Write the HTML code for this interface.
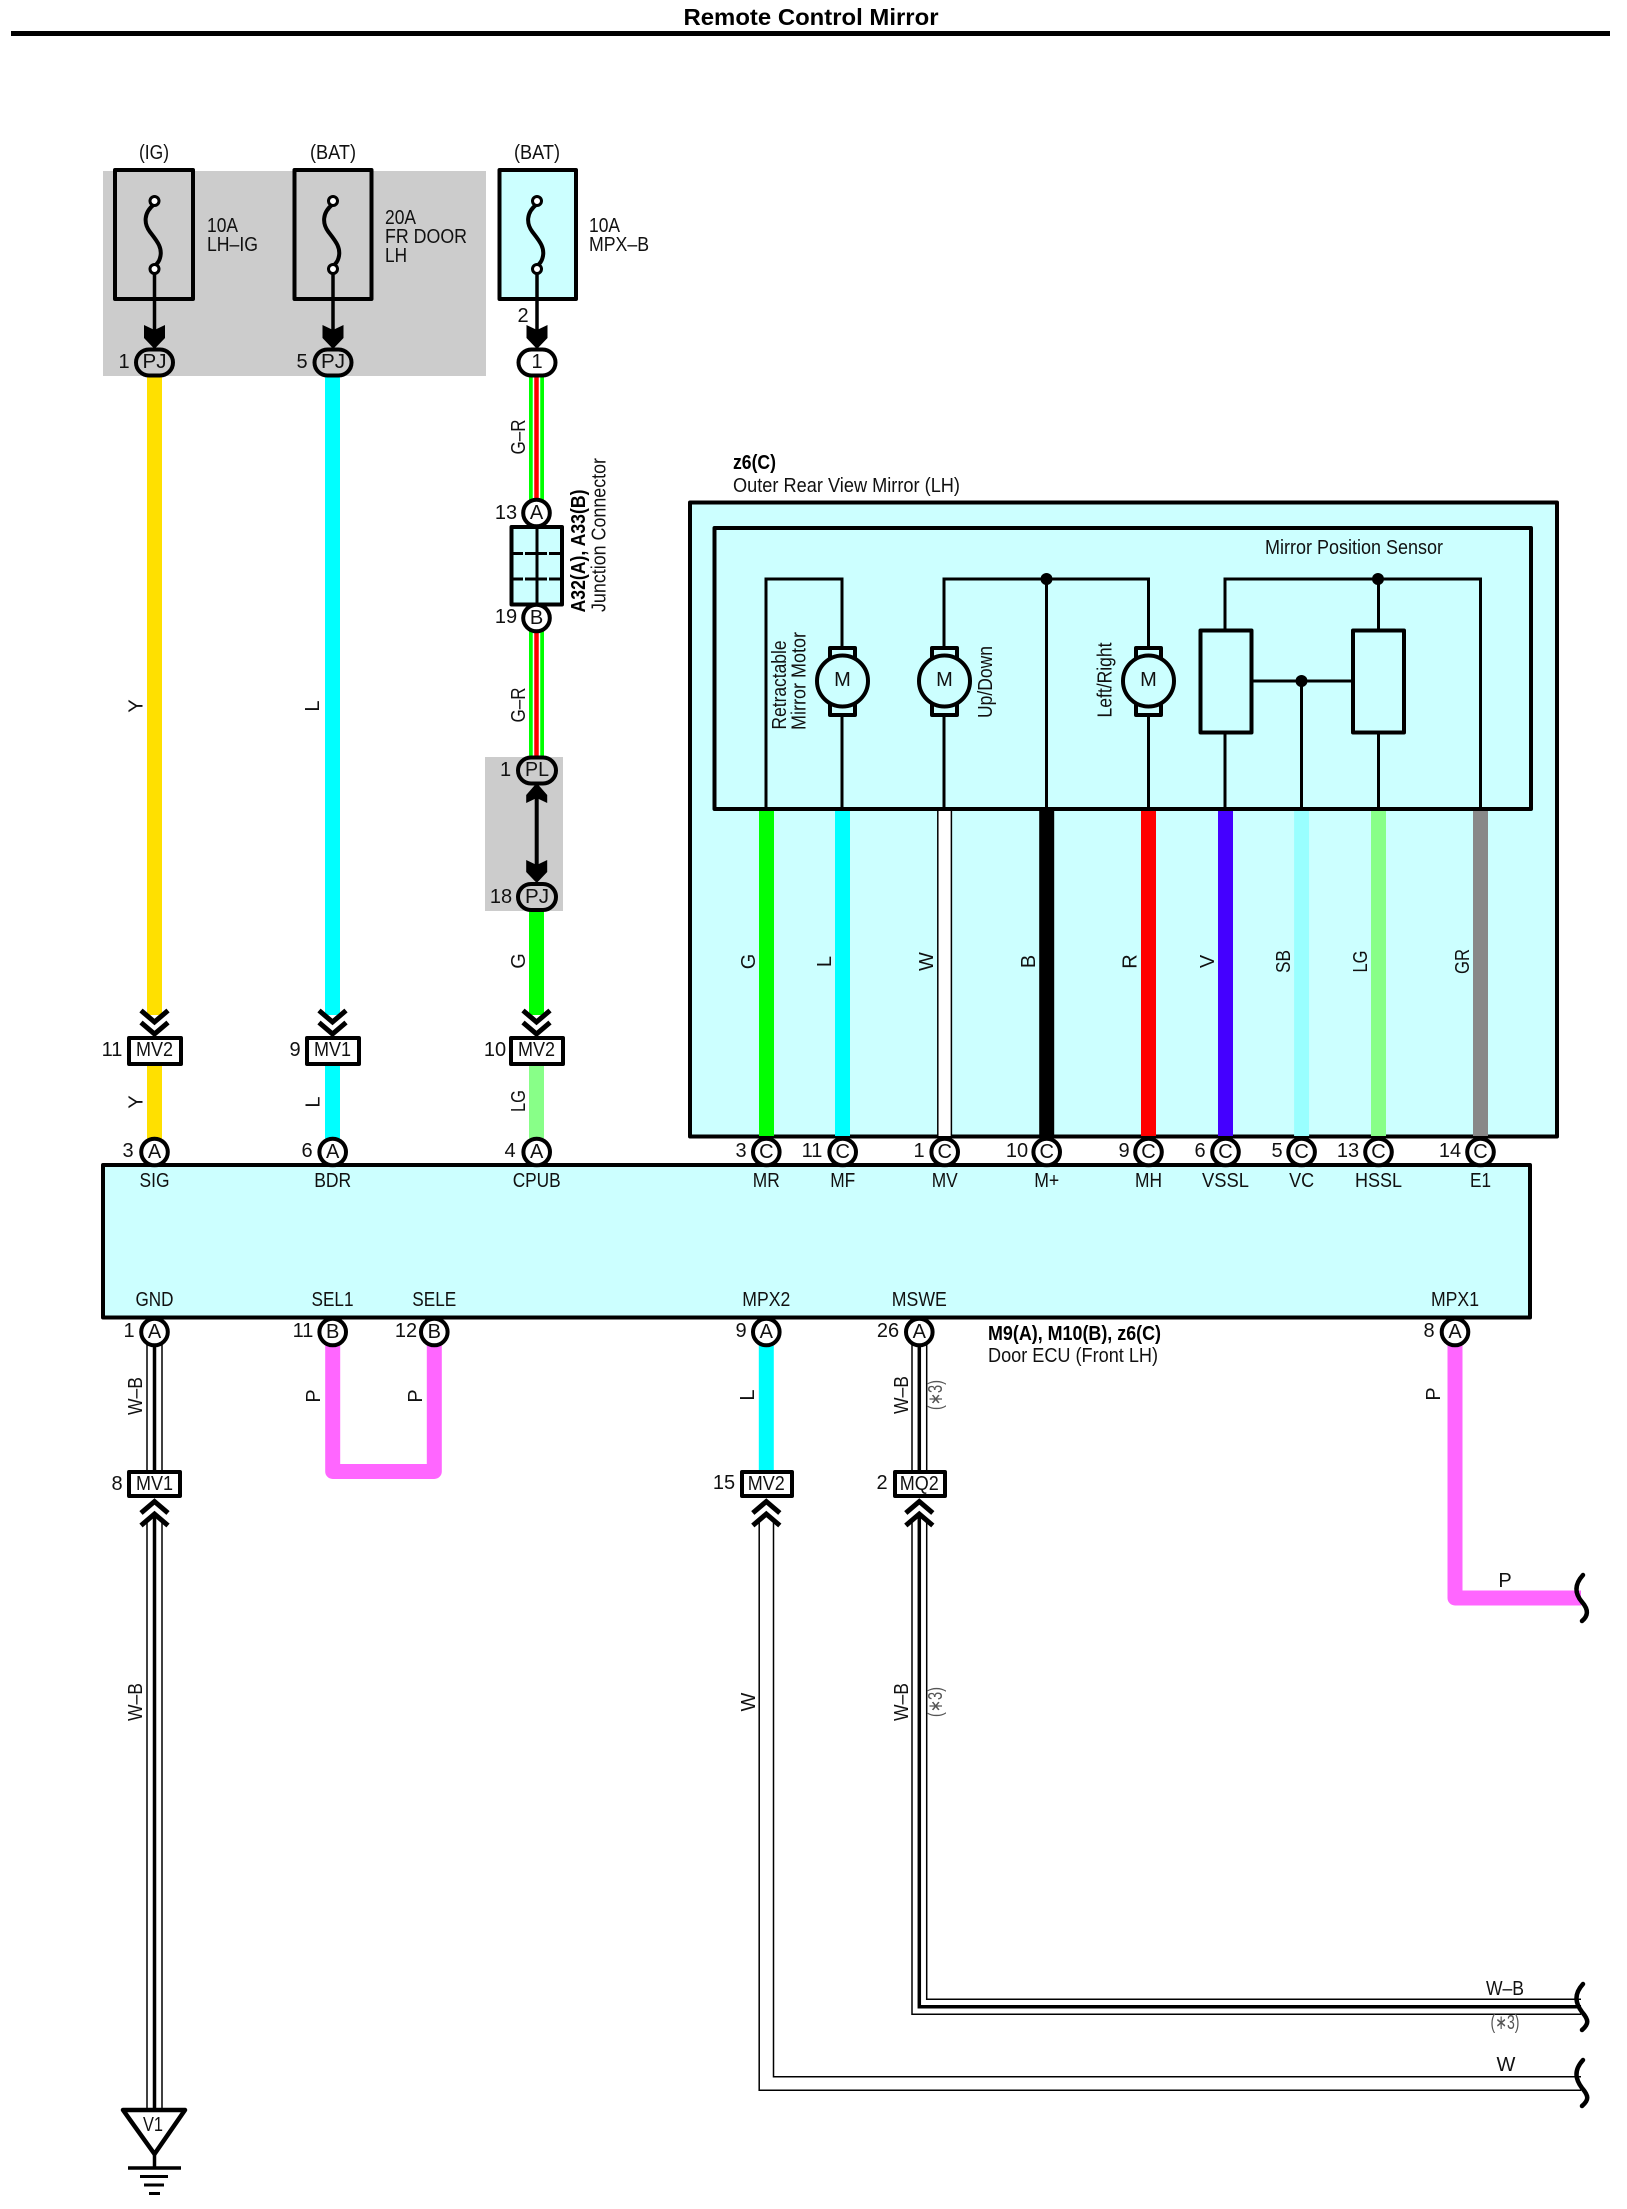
<!DOCTYPE html>
<html><head><meta charset="utf-8"><title>Remote Control Mirror</title>
<style>
html,body{margin:0;padding:0;background:#fff}
svg{display:block}
text{font-family:"Liberation Sans",sans-serif;font-size:20px;fill:#111;text-anchor:middle;dominant-baseline:central}
.l{text-anchor:start}
.b{font-weight:bold;fill:#000}
.k{fill:none;stroke:#000;stroke-width:4;stroke-linejoin:round}
.s{fill:none;stroke:#000;stroke-width:3}
.c{fill:#fff;stroke:#000;stroke-width:4}
.bx{fill:#cff;stroke:#000;stroke-width:4;stroke-linejoin:round}
.g{fill:#ccc;stroke:#000;stroke-width:4}
.w{fill:none;stroke-width:15}
.t{fill:none;stroke:#000;stroke-width:1.5}
.sq{fill:none;stroke:#000;stroke-width:4.5;stroke-linecap:round}
.ch{fill:none;stroke:#000;stroke-width:5}
</style></head><body>
<svg xmlns="http://www.w3.org/2000/svg" width="1627" height="2209" viewBox="0 0 1627 2209">
<rect width="1627" height="2209" fill="#fff"/>
<text class="b" x="811" y="17" style="font-size:23px" textLength="255" lengthAdjust="spacingAndGlyphs">Remote Control Mirror</text>
<rect x="11" y="31" width="1599" height="5" fill="#000"/>

<!-- grey zones -->
<rect x="103" y="171" width="383" height="205" fill="#ccc"/>
<rect x="485" y="757" width="78" height="154" fill="#ccc"/>

<!-- fuses -->
<text x="154" y="153" textLength="30" lengthAdjust="spacingAndGlyphs">(IG)</text>
<text x="333" y="153" textLength="46" lengthAdjust="spacingAndGlyphs">(BAT)</text>
<text x="537" y="153" textLength="46" lengthAdjust="spacingAndGlyphs">(BAT)</text>
<rect class="k" x="115" y="170" width="78" height="129" style="fill:#ccc"/>
<rect class="k" x="294.500" y="170" width="77" height="129" style="fill:#ccc"/>
<rect class="bx" x="499.500" y="170" width="76.500" height="129"/>
<g class="k">
<path d="M154.500 204C143 213 144 224 150 232C157 241 163 248 160 258C159 262 157 264 154.500 266"/>
<path d="M333 204C321.500 213 322.500 224 328.500 232C335.500 241 341.500 248 338.500 258C337.500 262 335.500 264 333 266"/>
<path d="M537 204C525.500 213 526.500 224 532.500 232C539.500 241 545.500 248 542.500 258C541.500 262 539.500 264 537 266"/>
</g>
<g fill="#fff" stroke="#000" stroke-width="3">
<circle cx="154.500" cy="201" r="4.500"/><circle cx="154.500" cy="269" r="4.500"/>
<circle cx="333" cy="201" r="4.500"/><circle cx="333" cy="269" r="4.500"/>
<circle cx="537" cy="201" r="4.500"/><circle cx="537" cy="269" r="4.500"/>
</g>
<path class="s" d="M154.500 273V340M333 273V340M537 273V340" style="stroke-width:3.500"/>
<polygon points="144,325 154.500,330 165,325 165,338 154.500,349 144,338" fill="#000"/>
<polygon points="322.500,325 333,330 343.500,325 343.500,338 333,349 322.500,338" fill="#000"/>
<polygon points="526.500,325 537,330 547.500,325 547.500,338 537,349 526.500,338" fill="#000"/>
<text class="l" x="207" y="226" textLength="31" lengthAdjust="spacingAndGlyphs">10A</text>
<text class="l" x="207" y="245" textLength="51" lengthAdjust="spacingAndGlyphs">LH–IG</text>
<text class="l" x="385" y="218" textLength="31" lengthAdjust="spacingAndGlyphs">20A</text>
<text class="l" x="385" y="237" textLength="82" lengthAdjust="spacingAndGlyphs">FR DOOR</text>
<text class="l" x="385" y="256" textLength="22" lengthAdjust="spacingAndGlyphs">LH</text>
<text class="l" x="589" y="226" textLength="31" lengthAdjust="spacingAndGlyphs">10A</text>
<text class="l" x="589" y="245" textLength="60" lengthAdjust="spacingAndGlyphs">MPX–B</text>
<text x="523" y="316">2</text>

<!-- coloured wires upper left -->
<path class="w" stroke="#ffe000" d="M154.500 376V1015"/>
<path class="w" stroke="#ffe000" d="M154.500 1065V1140"/>
<path class="w" stroke="#0ff" d="M332.500 376V1015"/>
<path class="w" stroke="#0ff" d="M332.500 1065V1140"/>
<path class="w" stroke="#0f0" d="M536.500 376V500M536.500 630V770M536.500 908V1015"/>
<path class="w" stroke="#88ff88" d="M536.500 1065V1140"/>
<path d="M536.500 376V500M536.500 630V770" fill="none" stroke="#fff" stroke-width="7.500"/>
<path d="M536.500 376V500M536.500 630V770" fill="none" stroke="#f00" stroke-width="4.500"/>
<rect x="485" y="757" width="78" height="28" fill="#ccc"/>

<!-- connector pills -->
<rect class="g" x="136" y="349.500" width="37" height="26" rx="13"/>
<rect class="g" x="314.500" y="349.500" width="37" height="26" rx="13"/>
<rect class="c" x="518.500" y="349.500" width="37" height="26" rx="13"/>
<text x="154.500" y="362" textLength="24" lengthAdjust="spacingAndGlyphs">PJ</text>
<text x="333" y="362" textLength="24" lengthAdjust="spacingAndGlyphs">PJ</text>
<text x="537" y="362">1</text>
<text x="124" y="362">1</text>
<text x="302" y="362">5</text>

<!-- junction connector -->
<text x="519" y="437" transform="rotate(-90 519 437)" textLength="35" lengthAdjust="spacingAndGlyphs">G–R</text>
<rect class="bx" x="511.500" y="527" width="50.500" height="77.500"/>
<path class="s" d="M537 528V605"/>
<path class="s" stroke-dasharray="11 2 22 2 11" d="M512 553.500H562M512 579H562"/>
<circle class="c" cx="536.500" cy="513" r="13.300"/>
<circle class="c" cx="536.500" cy="618" r="13.300"/>
<text x="536.500" y="513">A</text>
<text x="536.500" y="618">B</text>
<text x="506" y="513">13</text>
<text x="506" y="617">19</text>
<text class="b" x="579" y="551" transform="rotate(-90 579 551)" textLength="123" lengthAdjust="spacingAndGlyphs">A32(A), A33(B)</text>
<text x="599.500" y="535" transform="rotate(-90 599.500 535)" textLength="154" lengthAdjust="spacingAndGlyphs">Junction Connector</text>
<text x="519" y="705" transform="rotate(-90 519 705)" textLength="35" lengthAdjust="spacingAndGlyphs">G–R</text>

<!-- PL PJ -->
<path class="s" d="M536.700 790V875" style="stroke-width:4"/>
<polygon points="526.200,803 536.700,798 547.200,803 547.200,795 536.700,783 526.200,795" fill="#000"/>
<polygon points="526.200,860 536.700,865 547.200,860 547.200,872 536.700,883 526.200,872" fill="#000"/>
<rect class="g" x="518" y="757.500" width="38" height="26" rx="13"/>
<rect class="g" x="518" y="884" width="38" height="26" rx="13"/>
<text x="537" y="770" textLength="24" lengthAdjust="spacingAndGlyphs">PL</text>
<text x="537" y="897" textLength="24" lengthAdjust="spacingAndGlyphs">PJ</text>
<text x="505.500" y="770">1</text>
<text x="501" y="897">18</text>

<text x="136.500" y="706" transform="rotate(-90 136.500 706)">Y</text>
<text x="313" y="706" transform="rotate(-90 313 706)">L</text>
<text x="519" y="961" transform="rotate(-90 519 961)">G</text>

<!-- chevrons down + inline connectors -->
<g class="ch">
<path d="M141 1010.500L154.500 1022L168 1010.500M141 1022.500L154.500 1034L168 1022.500"/>
<path d="M319 1010.500L332.500 1022L346 1010.500M319 1022.500L332.500 1034L346 1022.500"/>
<path d="M523 1010.500L536.500 1022L550 1010.500M523 1022.500L536.500 1034L550 1022.500"/>
</g>
<rect class="k" x="129" y="1038" width="52" height="26" style="fill:#fff"/>
<rect class="k" x="307" y="1038" width="52" height="26" style="fill:#fff"/>
<rect class="k" x="511" y="1038" width="52" height="26" style="fill:#fff"/>
<text x="154.500" y="1050" textLength="37" lengthAdjust="spacingAndGlyphs">MV2</text>
<text x="332.500" y="1050" textLength="37" lengthAdjust="spacingAndGlyphs">MV1</text>
<text x="536.500" y="1050" textLength="37" lengthAdjust="spacingAndGlyphs">MV2</text>
<text x="112" y="1050">11</text>
<text x="295" y="1050">9</text>
<text x="495" y="1050">10</text>
<text x="136.500" y="1102" transform="rotate(-90 136.500 1102)">Y</text>
<text x="313.500" y="1102" transform="rotate(-90 313.500 1102)">L</text>
<text x="519" y="1101" transform="rotate(-90 519 1101)" textLength="22" lengthAdjust="spacingAndGlyphs">LG</text>

<!-- Outer mirror box -->
<text class="b l" x="733" y="463" textLength="43" lengthAdjust="spacingAndGlyphs">z6(C)</text>
<text class="l" x="733" y="486" textLength="227" lengthAdjust="spacingAndGlyphs">Outer Rear View Mirror (LH)</text>
<rect class="bx" x="690" y="502.500" width="867" height="634"/>
<rect class="bx" x="714.500" y="528" width="816.500" height="281"/>
<text x="1354" y="548" textLength="178" lengthAdjust="spacingAndGlyphs">Mirror Position Sensor</text>

<!-- inner circuit -->
<g class="s">
<path d="M766 809V579H842V809"/>
<path d="M944 809V579H1148.500V809"/>
<path d="M1046.500 579V809"/>
<path d="M1225 809V579H1480.500V809"/>
<path d="M1378.500 579V809"/>
<path d="M1301.500 681V809M1252 681H1352"/>
</g>
<circle cx="1046.500" cy="579" r="6" fill="#000"/>
<circle cx="1378" cy="579" r="6" fill="#000"/>
<circle cx="1301.500" cy="681" r="6" fill="#000"/>
<rect class="k" x="1200.500" y="630.500" width="51" height="102" style="fill:#cff"/>
<rect class="k" x="1353" y="630.500" width="51" height="102" style="fill:#cff"/>
<g>
<rect class="k" x="830" y="648" width="25" height="67" style="fill:#cff"/>
<circle class="k" cx="842.500" cy="681" r="25.500" style="fill:#cff"/>
<text x="842.500" y="680">M</text>
<rect class="k" x="932" y="648" width="25" height="67" style="fill:#cff"/>
<circle class="k" cx="944.500" cy="681" r="25.500" style="fill:#cff"/>
<text x="944.500" y="680">M</text>
<rect class="k" x="1136" y="648" width="25" height="67" style="fill:#cff"/>
<circle class="k" cx="1148.500" cy="681" r="25.500" style="fill:#cff"/>
<text x="1148.500" y="680">M</text>
</g>
<text x="780" y="685" transform="rotate(-90 780 685)" textLength="89" lengthAdjust="spacingAndGlyphs">Retractable</text>
<text x="799.500" y="681" transform="rotate(-90 799.500 681)" textLength="98" lengthAdjust="spacingAndGlyphs">Mirror Motor</text>
<text x="986" y="682" transform="rotate(-90 986 682)" textLength="72" lengthAdjust="spacingAndGlyphs">Up/Down</text>
<text x="1105.500" y="680" transform="rotate(-90 1105.500 680)" textLength="75" lengthAdjust="spacingAndGlyphs">Left/Right</text>

<!-- Mirror wires -->
<path class="w" stroke="#0f0" d="M766.500 811V1136"/>
<path class="w" stroke="#0ff" d="M842.500 811V1136"/>
<rect x="938" y="811" width="14" height="325" fill="#fff"/>
<path class="t" d="M937.800 811V1136M951.400 811V1136"/>
<path class="w" stroke="#000" d="M1046.700 811V1136"/>
<path class="w" stroke="#f00" d="M1148.500 811V1136"/>
<path class="w" stroke="#4400ff" d="M1225.500 811V1136"/>
<path class="w" stroke="#9ff" d="M1301.600 811V1136"/>
<path class="w" stroke="#88ff88" d="M1378.500 811V1136"/>
<path class="w" stroke="#888" d="M1480.500 811V1136"/>
<text x="749" y="961.500" transform="rotate(-90 749 961.500)">G</text>
<text x="825" y="961.500" transform="rotate(-90 825 961.500)">L</text>
<text x="927" y="961.500" transform="rotate(-90 927 961.500)">W</text>
<text x="1029" y="961.500" transform="rotate(-90 1029 961.500)">B</text>
<text x="1130.500" y="961.500" transform="rotate(-90 1130.500 961.500)">R</text>
<text x="1208" y="961.500" transform="rotate(-90 1208 961.500)">V</text>
<text x="1284" y="961.500" transform="rotate(-90 1284 961.500)" textLength="23" lengthAdjust="spacingAndGlyphs">SB</text>
<text x="1361" y="961.500" transform="rotate(-90 1361 961.500)" textLength="22" lengthAdjust="spacingAndGlyphs">LG</text>
<text x="1463" y="961.500" transform="rotate(-90 1463 961.500)" textLength="25" lengthAdjust="spacingAndGlyphs">GR</text>

<!-- ECU box -->
<rect class="bx" x="103" y="1165" width="1427" height="152.500"/>
<g class="c">
<circle cx="154.500" cy="1152" r="13.300"/><circle cx="332.700" cy="1152" r="13.300"/><circle cx="536.700" cy="1152" r="13.300"/>
<circle cx="766.300" cy="1152" r="13.300"/><circle cx="842.700" cy="1152" r="13.300"/><circle cx="944.700" cy="1152" r="13.300"/>
<circle cx="1046.700" cy="1152" r="13.300"/><circle cx="1148.500" cy="1152" r="13.300"/><circle cx="1225.500" cy="1152" r="13.300"/>
<circle cx="1301.600" cy="1152" r="13.300"/><circle cx="1378.500" cy="1152" r="13.300"/><circle cx="1480.500" cy="1152" r="13.300"/>
</g>
<text x="154.500" y="1152">A</text><text x="332.700" y="1152">A</text><text x="536.700" y="1152">A</text>
<text x="766.300" y="1152">C</text><text x="842.700" y="1152">C</text><text x="944.700" y="1152">C</text>
<text x="1046.700" y="1152">C</text><text x="1148.500" y="1152">C</text><text x="1225.500" y="1152">C</text>
<text x="1301.600" y="1152">C</text><text x="1378.500" y="1152">C</text><text x="1480.500" y="1152">C</text>
<text x="128" y="1151">3</text><text x="307" y="1151">6</text><text x="510" y="1151">4</text>
<text x="741" y="1151">3</text><text x="812" y="1151">11</text><text x="919" y="1151">1</text>
<text x="1017" y="1151">10</text><text x="1124" y="1151">9</text><text x="1200" y="1151">6</text>
<text x="1277" y="1151">5</text><text x="1348" y="1151">13</text><text x="1450" y="1151">14</text>
<text x="154.500" y="1181" textLength="30" lengthAdjust="spacingAndGlyphs">SIG</text>
<text x="332.700" y="1181" textLength="37" lengthAdjust="spacingAndGlyphs">BDR</text>
<text x="536.700" y="1181" textLength="48" lengthAdjust="spacingAndGlyphs">CPUB</text>
<text x="766.300" y="1181" textLength="27" lengthAdjust="spacingAndGlyphs">MR</text>
<text x="842.700" y="1181" textLength="25" lengthAdjust="spacingAndGlyphs">MF</text>
<text x="944.700" y="1181" textLength="26" lengthAdjust="spacingAndGlyphs">MV</text>
<text x="1046.700" y="1181" textLength="25" lengthAdjust="spacingAndGlyphs">M+</text>
<text x="1148.500" y="1181" textLength="27" lengthAdjust="spacingAndGlyphs">MH</text>
<text x="1225.500" y="1181" textLength="47" lengthAdjust="spacingAndGlyphs">VSSL</text>
<text x="1301.600" y="1181" textLength="25" lengthAdjust="spacingAndGlyphs">VC</text>
<text x="1378.500" y="1181" textLength="47" lengthAdjust="spacingAndGlyphs">HSSL</text>
<text x="1480.500" y="1181" textLength="21" lengthAdjust="spacingAndGlyphs">E1</text>
<text x="154.500" y="1300" textLength="38" lengthAdjust="spacingAndGlyphs">GND</text>
<text x="332.500" y="1300" textLength="42" lengthAdjust="spacingAndGlyphs">SEL1</text>
<text x="434.300" y="1300" textLength="44" lengthAdjust="spacingAndGlyphs">SELE</text>
<text x="766.300" y="1300" textLength="48" lengthAdjust="spacingAndGlyphs">MPX2</text>
<text x="919.300" y="1300" textLength="55" lengthAdjust="spacingAndGlyphs">MSWE</text>
<text x="1455" y="1300" textLength="48" lengthAdjust="spacingAndGlyphs">MPX1</text>

<!-- lower wires -->
<path class="w" stroke="#f6f" stroke-linejoin="round" d="M332.700 1345V1471.500H434.300V1345"/>
<path class="w" stroke="#0ff" d="M766.300 1345V1470"/>
<path class="w" stroke="#f6f" stroke-linejoin="round" d="M1455 1345V1598H1581"/>

<!-- GND wire -->
<path class="t" d="M147 1345V1470M162 1345V1470M147 1520V2110M162 1520V2110"/>
<path d="M154.500 1345V1470M154.500 1514V2110" fill="none" stroke="#000" stroke-width="3.500"/>
<!-- MSWE wire -->
<path class="t" d="M912 1345V1470M926.700 1345V1470"/>
<path d="M919.300 1345V1470" fill="none" stroke="#000" stroke-width="3.500"/>
<path class="t" d="M912 1520V2014.300H1581M926.700 1520V1999.300H1581"/>
<path d="M919.300 1514V2006.800H1581" fill="none" stroke="#000" stroke-width="3.500"/>
<!-- MPX2 lower W wire -->
<path class="t" d="M759.200 1520V2090.300H1581M773.500 1520V2076.700H1581"/>

<!-- lower connectors -->
<rect class="k" x="129" y="1472" width="51" height="24" style="fill:#fff"/>
<rect class="k" x="742" y="1472" width="50" height="24" style="fill:#fff"/>
<rect class="k" x="895" y="1472" width="50" height="24" style="fill:#fff"/>
<text x="154.500" y="1484" textLength="37" lengthAdjust="spacingAndGlyphs">MV1</text>
<text x="766.300" y="1484" textLength="37" lengthAdjust="spacingAndGlyphs">MV2</text>
<text x="919.300" y="1484" textLength="39" lengthAdjust="spacingAndGlyphs">MQ2</text>
<text x="117" y="1484">8</text>
<text x="724" y="1483">15</text>
<text x="882" y="1483">2</text>
<g class="ch">
<path d="M141 1513L154.500 1501.500L168 1513M141 1525.500L154.500 1514L168 1525.500"/>
<path d="M752.800 1513L766.300 1501.500L779.800 1513M752.800 1525.500L766.300 1514L779.800 1525.500"/>
<path d="M905.800 1513L919.300 1501.500L932.800 1513M905.800 1525.500L919.300 1514L932.800 1525.500"/>
</g>

<!-- lower pins -->
<g class="c">
<circle cx="154.500" cy="1332" r="13.300"/><circle cx="332.700" cy="1332" r="13.300"/><circle cx="434.300" cy="1332" r="13.300"/>
<circle cx="766.300" cy="1332" r="13.300"/><circle cx="919.300" cy="1332" r="13.300"/><circle cx="1455" cy="1332" r="13.300"/>
</g>
<text x="154.500" y="1332">A</text><text x="332.700" y="1332">B</text><text x="434.300" y="1332">B</text>
<text x="766.300" y="1332">A</text><text x="919.300" y="1332">A</text><text x="1455" y="1332">A</text>
<text x="129" y="1331">1</text>
<text x="303" y="1331">11</text>
<text x="406" y="1331">12</text>
<text x="741" y="1331">9</text>
<text x="888" y="1331">26</text>
<text x="1429" y="1331">8</text>

<text class="b l" x="988" y="1334" textLength="173" lengthAdjust="spacingAndGlyphs">M9(A), M10(B), z6(C)</text>
<text class="l" x="988" y="1356" textLength="170" lengthAdjust="spacingAndGlyphs">Door ECU (Front LH)</text>

<!-- lower labels -->
<text x="136" y="1396" transform="rotate(-90 136 1396)" textLength="38" lengthAdjust="spacingAndGlyphs">W–B</text>
<text x="136" y="1702" transform="rotate(-90 136 1702)" textLength="38" lengthAdjust="spacingAndGlyphs">W–B</text>
<text x="314" y="1396" transform="rotate(-90 314 1396)">P</text>
<text x="416" y="1396" transform="rotate(-90 416 1396)">P</text>
<text x="748" y="1395" transform="rotate(-90 748 1395)">L</text>
<text x="749" y="1702" transform="rotate(-90 749 1702)">W</text>
<text x="902" y="1395" transform="rotate(-90 902 1395)" textLength="38" lengthAdjust="spacingAndGlyphs">W–B</text>
<text x="902" y="1702" transform="rotate(-90 902 1702)" textLength="38" lengthAdjust="spacingAndGlyphs">W–B</text>
<text x="936" y="1395" transform="rotate(-90 936 1395)" textLength="30" lengthAdjust="spacingAndGlyphs" style="fill:#555">(∗3)</text>
<text x="936" y="1702" transform="rotate(-90 936 1702)" textLength="30" lengthAdjust="spacingAndGlyphs" style="fill:#555">(∗3)</text>
<text x="1434" y="1394" transform="rotate(-90 1434 1394)">P</text>

<text x="1505" y="1581">P</text>
<text x="1505" y="1989" textLength="38" lengthAdjust="spacingAndGlyphs">W–B</text>
<text x="1505" y="2023" textLength="29" lengthAdjust="spacingAndGlyphs" style="fill:#555">(∗3)</text>
<text x="1506" y="2065">W</text>

<!-- squiggles -->
<g class="sq">
<path d="M1583 1575C1573 1586 1576 1595 1582 1602C1589 1610 1588 1616 1582 1621"/>
<path d="M1583 1984C1573 1995 1576 2004 1582 2012C1589 2020 1589 2024 1582 2030"/>
<path d="M1583 2060C1573 2071 1576 2080 1582 2088C1589 2096 1589 2100 1582 2106"/>
</g>

<!-- ground -->
<polygon points="123,2110 185,2110 154.500,2154" fill="#fff" stroke="#000" stroke-width="4.500" stroke-linejoin="round"/>
<text x="153" y="2125" textLength="20" lengthAdjust="spacingAndGlyphs">V1</text>
<path d="M154.500 2154V2168" stroke="#000" stroke-width="3.500"/>
<path d="M128 2168H181" stroke="#000" stroke-width="3.500"/>
<path d="M140 2176.500H168" stroke="#000" stroke-width="3"/>
<path d="M144 2185H164" stroke="#000" stroke-width="3"/>
<path d="M149 2193.500H160" stroke="#000" stroke-width="3"/>
</svg>
</body></html>
